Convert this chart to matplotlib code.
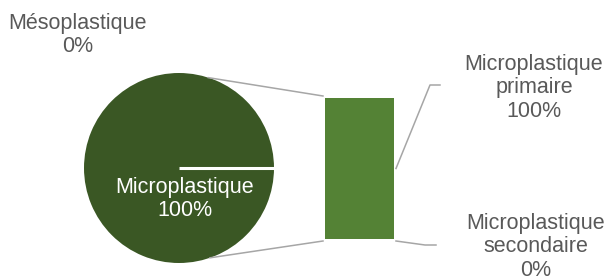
import numpy as np
import matplotlib
matplotlib.use("Agg")
import matplotlib.pyplot as plt

# Data
pie_labels = ["Microplastique", "Mésoplastique"]
pie_values = [1.0, 0.0]
bar_labels = ["Microplastique\nsecondaire", "Microplastique\nprimaire"]
bar_values = [0.0, 1.0]

W, H = 606, 280
fig = plt.figure(figsize=(W / 100, H / 100), dpi=100)
ax = fig.add_axes([0, 0, 1, 1])

font = ["Liberation Sans", "DejaVu Sans"]
gray_txt = "#595959"
line_col = "#A6A6A6"
pie_col = "#3A5724"
bar_col = "#548235"
fs = 15.5
ls = 1.18

def Y(y):
    return H - y

# Pie
cx, cy, r = 179, Y(168), 95
start = 0
ax.pie(pie_values, colors=[pie_col, "#70AD47"], startangle=start, counterclock=True,
       center=(cx, cy), radius=r, frame=True,
       wedgeprops=dict(linewidth=0))
ax.set_xlim(0, W)
ax.set_ylim(0, H)
ax.set_aspect("equal")
ax.axis("off")
# slice boundary line
th = np.deg2rad(start)
ax.plot([cx, cx + r * np.cos(th)], [cy, cy + r * np.sin(th)], color="white", lw=2.2,
        solid_capstyle="butt")

ax.text(185, Y(199), f"{pie_labels[0]}\n{pie_values[0]:.0%}", color="white",
        ha="center", va="center", fontsize=fs, family=font, linespacing=ls)
ax.text(78, Y(35), f"{pie_labels[1]}\n{pie_values[1]:.0%}", color=gray_txt,
        ha="center", va="center", fontsize=fs, family=font, linespacing=ls)

# Bar (stacked)
bx, bw = 359.5, 69
bbottom = Y(239)
scale = 141
bottom = bbottom
segs = []
for lab, v in zip(bar_labels, bar_values):
    ax.bar(bx, v * scale, width=bw, bottom=bottom, color=bar_col, linewidth=0)
    segs.append((bottom, bottom + v * scale))
    bottom += v * scale
top = bottom

# connector lines pie->bar
a1, a2 = np.deg2rad(72), np.deg2rad(-71)
ax.plot([cx + r * np.cos(a1), bx - bw / 2 - 2], [cy + r * np.sin(a1), top + 2], color=line_col, lw=1.1)
ax.plot([cx + r * np.cos(a2), bx - bw / 2 - 2], [cy + r * np.sin(a2), bbottom - 2], color=line_col, lw=1.1)

# leader lines & labels
xr = bx + bw / 2 + 2
s_mid = (segs[1][0] + segs[1][1]) / 2
ax.plot([xr, 430, 440], [s_mid, Y(85), Y(85)], color=line_col, lw=1.1)
ax.text(534, Y(88), f"{bar_labels[1]}\n{bar_values[1]:.0%}", color=gray_txt,
        ha="center", va="center", fontsize=fs, family=font, linespacing=ls)
s0 = (segs[0][0] + segs[0][1]) / 2
ax.plot([xr, 425, 436], [s0 - 2, Y(245), Y(245)], color=line_col, lw=1.1)
ax.text(536, Y(247), f"{bar_labels[0]}\n{bar_values[0]:.0%}", color=gray_txt,
        ha="center", va="center", fontsize=fs, family=font, linespacing=ls)

fig.savefig("out.png", dpi=100, facecolor="white")
